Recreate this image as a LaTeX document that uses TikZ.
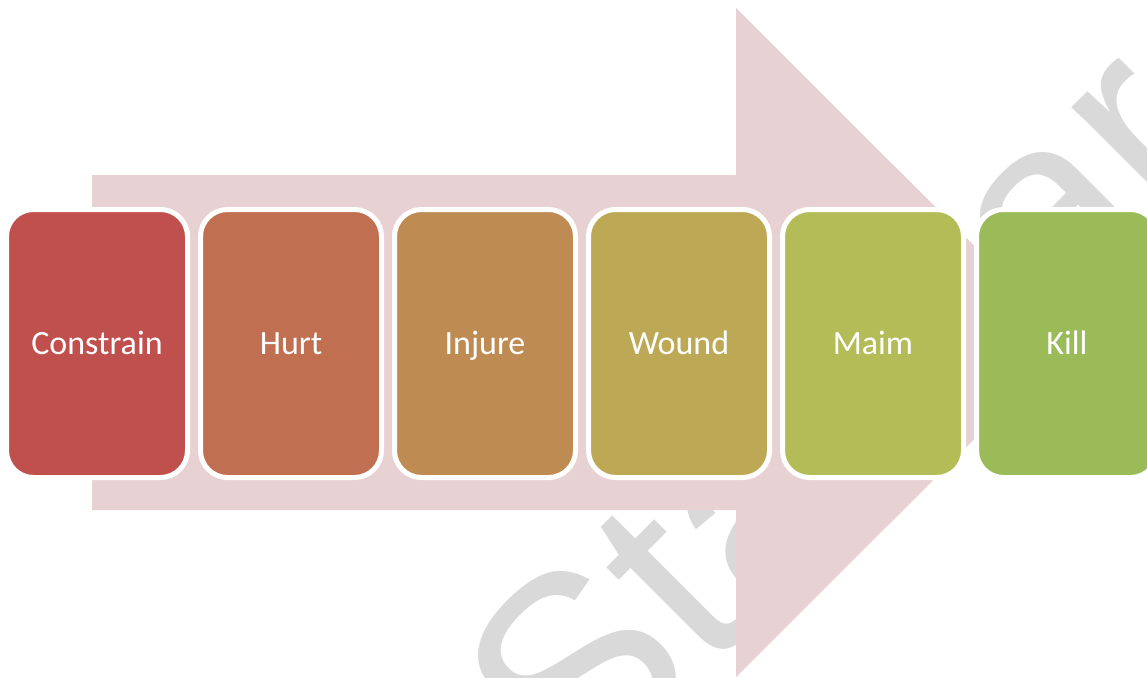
\documentclass[tikz,border=0pt]{standalone}
\usepackage{fontspec}
\setmainfont{Carlito}
\newfontfamily\wmfont{Liberation Sans}
\definecolor{arrowpink}{HTML}{E8D1D2}
\definecolor{wmgray}{HTML}{D9D9D9}
\definecolor{cA}{HTML}{C0504D}
\definecolor{cB}{HTML}{C06F50}
\definecolor{cC}{HTML}{BE8C52}
\definecolor{cD}{HTML}{BDA955}
\definecolor{cE}{HTML}{B4BC58}
\definecolor{cF}{HTML}{9BBB59}
\tikzset{
  stagebox/.style={draw=white, line width=5pt, rounded corners=27pt,
    minimum width=181pt, minimum height=268pt, inner sep=0pt,
    text=white, font=\fontsize{34}{34}\selectfont,
    text height=22pt, text depth=0pt},
  wm/.style={text=wmgray, font=\wmfont\fontsize{275}{275}\selectfont, inner sep=0pt,
    rotate=45, anchor=base west}
}
\begin{document}
\begin{tikzpicture}[x=1pt,y=-1pt]
\useasboundingbox (0,0) rectangle (1147,677);
\clip (0,0) rectangle (1147,677);
\fill[white] (0,0) rectangle (1147,677);
\node[wm] (wmA) at (577,803) {Sta};
\node[wm] (wmB) at (1053,332) {ar};
\fill[arrowpink] (92,175) -- (736,175) -- (736,8) -- (1071,342.5) -- (736,677) -- (736,510) -- (92,510) -- cycle;
\node[stagebox, fill=cA] (s1) at (97,343.5) {Constrain};
\node[stagebox, fill=cB] (s2) at (291,343.5) {Hurt};
\node[stagebox, fill=cC] (s3) at (485,343.5) {Injure};
\node[stagebox, fill=cD] (s4) at (679,343.5) {Wound};
\node[stagebox, fill=cE] (s5) at (873,343.5) {Maim};
\node[stagebox, fill=cF] (s6) at (1067,343.5) {Kill};
\end{tikzpicture}
\end{document}
